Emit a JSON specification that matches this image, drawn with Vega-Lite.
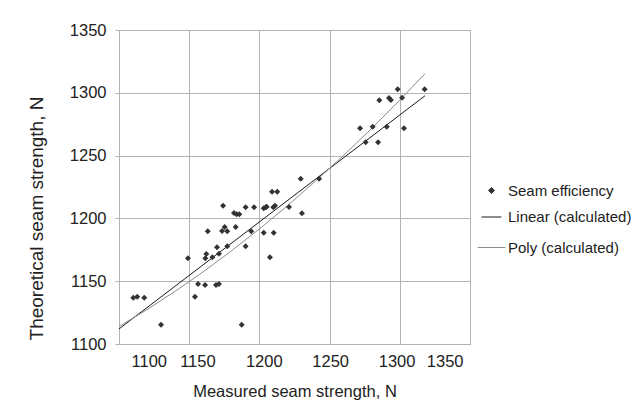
{
  "$schema": "https://vega.github.io/schema/vega-lite/v6.json",
  "width": 351,
  "height": 314,
  "autosize": "none",
  "padding": {"left": 119, "top": 30, "right": 171, "bottom": 72},
  "background": "white",
  "config": {
    "font": "Liberation Sans",
    "view": {"stroke": "#b3b3b3", "strokeWidth": 1},
    "axis": {
      "grid": true,
      "gridColor": "#b3b3b3",
      "gridWidth": 1,
      "domainColor": "#b3b3b3",
      "tickColor": "#b3b3b3",
      "labelColor": "#222222",
      "labelFontSize": 16.5,
      "titleFontSize": 16.5,
      "titleFontWeight": "normal",
      "titleColor": "#222222"
    }
  },
  "datasets": {
    "points": [
      {"measured": 1110.2, "theoretical": 1136.9, "series": "Seam efficiency"},
      {"measured": 1113.0, "theoretical": 1137.7, "series": "Seam efficiency"},
      {"measured": 1118.0, "theoretical": 1136.9, "series": "Seam efficiency"},
      {"measured": 1129.9, "theoretical": 1115.4, "series": "Seam efficiency"},
      {"measured": 1149.1, "theoretical": 1168.2, "series": "Seam efficiency"},
      {"measured": 1154.1, "theoretical": 1137.7, "series": "Seam efficiency"},
      {"measured": 1156.3, "theoretical": 1147.8, "series": "Seam efficiency"},
      {"measured": 1161.3, "theoretical": 1147.0, "series": "Seam efficiency"},
      {"measured": 1169.1, "theoretical": 1147.0, "series": "Seam efficiency"},
      {"measured": 1171.2, "theoretical": 1147.8, "series": "Seam efficiency"},
      {"measured": 1161.5, "theoretical": 1168.2, "series": "Seam efficiency"},
      {"measured": 1162.2, "theoretical": 1171.7, "series": "Seam efficiency"},
      {"measured": 1166.5, "theoretical": 1169.0, "series": "Seam efficiency"},
      {"measured": 1169.8, "theoretical": 1177.0, "series": "Seam efficiency"},
      {"measured": 1171.2, "theoretical": 1171.9, "series": "Seam efficiency"},
      {"measured": 1177.1, "theoretical": 1177.8, "series": "Seam efficiency"},
      {"measured": 1163.2, "theoretical": 1189.7, "series": "Seam efficiency"},
      {"measured": 1173.4, "theoretical": 1190.0, "series": "Seam efficiency"},
      {"measured": 1175.3, "theoretical": 1193.2, "series": "Seam efficiency"},
      {"measured": 1177.1, "theoretical": 1189.7, "series": "Seam efficiency"},
      {"measured": 1174.1, "theoretical": 1210.1, "series": "Seam efficiency"},
      {"measured": 1181.9, "theoretical": 1204.3, "series": "Seam efficiency"},
      {"measured": 1183.8, "theoretical": 1203.3, "series": "Seam efficiency"},
      {"measured": 1185.7, "theoretical": 1203.3, "series": "Seam efficiency"},
      {"measured": 1183.1, "theoretical": 1193.2, "series": "Seam efficiency"},
      {"measured": 1190.2, "theoretical": 1208.8, "series": "Seam efficiency"},
      {"measured": 1196.2, "theoretical": 1208.8, "series": "Seam efficiency"},
      {"measured": 1190.2, "theoretical": 1177.8, "series": "Seam efficiency"},
      {"measured": 1194.2, "theoretical": 1189.7, "series": "Seam efficiency"},
      {"measured": 1187.4, "theoretical": 1115.4, "series": "Seam efficiency"},
      {"measured": 1203.1, "theoretical": 1208.0, "series": "Seam efficiency"},
      {"measured": 1204.5, "theoretical": 1208.8, "series": "Seam efficiency"},
      {"measured": 1205.2, "theoretical": 1209.3, "series": "Seam efficiency"},
      {"measured": 1209.9, "theoretical": 1208.8, "series": "Seam efficiency"},
      {"measured": 1211.1, "theoretical": 1210.1, "series": "Seam efficiency"},
      {"measured": 1209.0, "theoretical": 1221.3, "series": "Seam efficiency"},
      {"measured": 1212.7, "theoretical": 1221.3, "series": "Seam efficiency"},
      {"measured": 1203.1, "theoretical": 1188.6, "series": "Seam efficiency"},
      {"measured": 1210.2, "theoretical": 1188.6, "series": "Seam efficiency"},
      {"measured": 1207.5, "theoretical": 1169.0, "series": "Seam efficiency"},
      {"measured": 1221.1, "theoretical": 1209.1, "series": "Seam efficiency"},
      {"measured": 1229.4, "theoretical": 1231.6, "series": "Seam efficiency"},
      {"measured": 1230.3, "theoretical": 1204.1, "series": "Seam efficiency"},
      {"measured": 1242.5, "theoretical": 1231.6, "series": "Seam efficiency"},
      {"measured": 1271.7, "theoretical": 1271.7, "series": "Seam efficiency"},
      {"measured": 1275.7, "theoretical": 1260.6, "series": "Seam efficiency"},
      {"measured": 1280.7, "theoretical": 1273.0, "series": "Seam efficiency"},
      {"measured": 1284.5, "theoretical": 1260.6, "series": "Seam efficiency"},
      {"measured": 1285.4, "theoretical": 1294.0, "series": "Seam efficiency"},
      {"measured": 1290.7, "theoretical": 1273.0, "series": "Seam efficiency"},
      {"measured": 1292.3, "theoretical": 1295.9, "series": "Seam efficiency"},
      {"measured": 1293.7, "theoretical": 1294.3, "series": "Seam efficiency"},
      {"measured": 1298.5, "theoretical": 1302.8, "series": "Seam efficiency"},
      {"measured": 1301.6, "theoretical": 1296.1, "series": "Seam efficiency"},
      {"measured": 1303.0, "theoretical": 1271.7, "series": "Seam efficiency"},
      {"measured": 1317.7, "theoretical": 1302.8, "series": "Seam efficiency"}
    ],
    "lines": [
      {"measured": 1100, "theoretical": 1112.0, "series": "Linear (calculated)"},
      {"measured": 1318, "theoretical": 1297.7, "series": "Linear (calculated)"},
      {"measured": 1100, "theoretical": 1113.9, "series": "Poly (calculated)"},
      {"measured": 1120, "theoretical": 1127.4, "series": "Poly (calculated)"},
      {"measured": 1140, "theoretical": 1142.0, "series": "Poly (calculated)"},
      {"measured": 1160, "theoretical": 1157.5, "series": "Poly (calculated)"},
      {"measured": 1180, "theoretical": 1174.1, "series": "Poly (calculated)"},
      {"measured": 1200, "theoretical": 1191.6, "series": "Poly (calculated)"},
      {"measured": 1220, "theoretical": 1210.1, "series": "Poly (calculated)"},
      {"measured": 1240, "theoretical": 1229.7, "series": "Poly (calculated)"},
      {"measured": 1260, "theoretical": 1250.2, "series": "Poly (calculated)"},
      {"measured": 1280, "theoretical": 1271.7, "series": "Poly (calculated)"},
      {"measured": 1300, "theoretical": 1294.2, "series": "Poly (calculated)"},
      {"measured": 1318, "theoretical": 1315.3, "series": "Poly (calculated)"}
    ]
  },
  "layer": [
    {
      "data": {"name": "lines"},
      "mark": {"type": "line", "strokeWidth": 1, "clip": true},
      "encoding": {
        "x": {"field": "measured", "type": "quantitative"},
        "y": {"field": "theoretical", "type": "quantitative"},
        "color": {"field": "series", "type": "nominal"},
        "detail": {"field": "series"}
      }
    },
    {
      "data": {"name": "points"},
      "mark": {"type": "point", "filled": true, "opacity": 1},
      "encoding": {
        "x": {
          "field": "measured",
          "type": "quantitative",
          "scale": {"domain": [1100, 1350], "nice": false, "zero": false},
          "axis": {
            "values": [1100, 1150, 1200, 1250, 1300, 1350],
            "format": "d",
            "ticks": false,
            "labelPadding": 9,
            "labelOffset": {"expr": "12 - 0.076 * (datum.value - 1100)"},
            "title": "Measured seam strength, N",
            "titlePadding": 14
          }
        },
        "y": {
          "field": "theoretical",
          "type": "quantitative",
          "scale": {"domain": [1100, 1350], "nice": false, "zero": false},
          "axis": {
            "values": [1100, 1150, 1200, 1250, 1300, 1350],
            "format": "d",
            "ticks": true,
            "tickSize": 4,
            "labelPadding": 9,
            "title": "Theoretical seam strength, N",
            "titleFontSize": 19,
            "titleY": 188,
            "titlePadding": 23
          }
        },
        "color": {
          "field": "series",
          "type": "nominal",
          "scale": {
            "domain": ["Seam efficiency", "Linear (calculated)", "Poly (calculated)"],
            "range": ["#333333", "#1a1a1a", "#8c8c8c"]
          },
          "legend": {
            "title": null,
            "orient": "none",
            "legendX": 358,
            "legendY": 153,
            "labelFontSize": 15,
            "labelColor": "#222222",
            "labelOffset": 2,
            "rowPadding": 7.5,
            "symbolStrokeWidth": 1,
            "encode": {
              "symbols": {
                "update": {
                  "stroke": {"scale": "color", "field": "value"},
                  "fill": {"scale": "color", "field": "value"},
                  "strokeWidth": {"value": 1}
                }
              }
            }
          }
        },
        "shape": {
          "field": "series",
          "type": "nominal",
          "scale": {
            "domain": ["Seam efficiency", "Linear (calculated)", "Poly (calculated)"],
            "range": ["diamond", "stroke", "stroke"]
          },
          "legend": {"title": null, "orient": "none", "legendX": 358, "legendY": 153}
        },
        "size": {
          "field": "series",
          "type": "ordinal",
          "scale": {
            "domain": ["Seam efficiency", "Linear (calculated)", "Poly (calculated)"],
            "range": [36, 760, 760]
          },
          "legend": {"title": null, "orient": "none", "legendX": 358, "legendY": 153}
        }
      }
    }
  ]
}
